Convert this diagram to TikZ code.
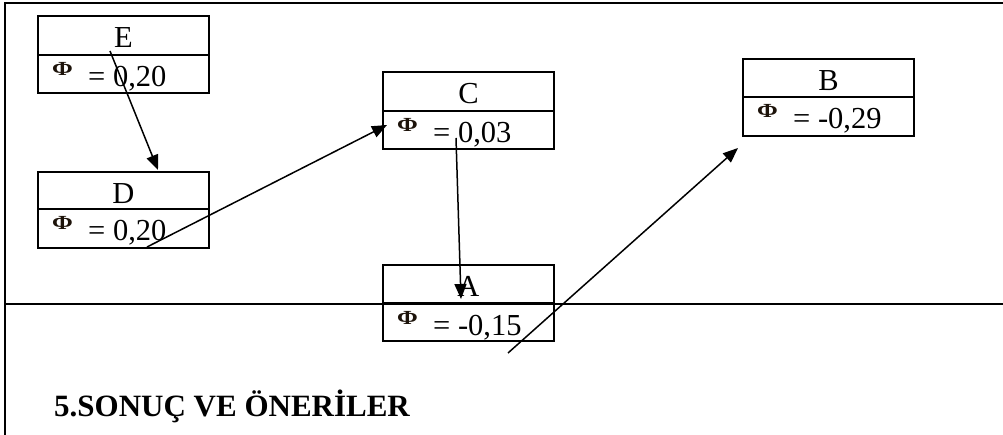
\documentclass[tikz,border=0pt]{standalone}
\usepackage{fontspec}
\setmainfont{Liberation Serif}
\usetikzlibrary{arrows.meta}
\newcommand\mkbox[7]{%
  % #1 name, #2 left, #3 top, #4 divider, #5 bottom, #6 label, #7 value
  \node[cell, minimum height={#4-#3}] (#1) at (#2,#3) {};
  \node[cell, minimum height={#5-#4}] (#1v) at (#2,#4) {};
  \node[lbl] (#1-l) at (#2+85.5,#3+32) {#6};
  \node[phi] (#1-p) at (#2+14,#4+21) {\scalebox{1.25}[1]{Φ}};
  \node[val] (#1-t) at (#2+50,#4+32) {= #7};
}
\begin{document}
\begin{tikzpicture}[x=1pt,y=-1pt,
  cell/.style={draw=black, line width=1.2pt, minimum width=171pt, inner sep=0pt, outer sep=0pt, anchor=north west},
  lbl/.style={font=\fontsize{30.5}{30.5}\selectfont, inner sep=0pt, anchor=base},
  val/.style={font=\fontsize{30.5}{30.5}\selectfont, inner sep=0pt, anchor=base west},
  phi/.style={font=\fontsize{20}{20}\selectfont\bfseries, text=black!85!brown, inner sep=0pt, anchor=base west},
  conn/.style={line width=1.5pt, -{Triangle[length=15pt,width=12pt]}},
  frameline/.style={line width=2.4pt, draw=black}]
\useasboundingbox (0,0) rectangle (1003,435);
% frame
\draw[frameline] (5,435) -- (5,3) -- (1003,3);
\draw[line width=1.8pt] (5,304) -- (1003,304);
% boxes
\mkbox{E}{38}{16}{55}{93}{E}{0,20}
\mkbox{D}{38}{172}{209}{248}{D}{0,20}
\mkbox{C}{383}{72}{111}{149}{C}{0,03}
\mkbox{A}{383}{265}{303}{341}{A}{-0,15}
\mkbox{B}{743}{59}{97}{136}{B}{-0,29}
% connector ends
\coordinate (e1) at (110,51);
\coordinate (d1) at (158,170);
\coordinate (d2) at (147,247);
\coordinate (c1) at (387,125);
\coordinate (c2) at (456,138);
\coordinate (a1) at (461,299);
\coordinate (a2) at (508,353);
\coordinate (b1) at (738,148);
\draw[conn] (e1) -- (d1);
\draw[conn] (d2) -- (c1);
\draw[conn] (c2) -- (a1);
\draw[conn] (a2) -- (b1);
% heading
\node[font=\fontsize{31}{31}\selectfont\bfseries, inner sep=0pt, anchor=base west] (head) at (54,416) {5.SONUÇ VE ÖNERİLER};
\end{tikzpicture}
\end{document}
